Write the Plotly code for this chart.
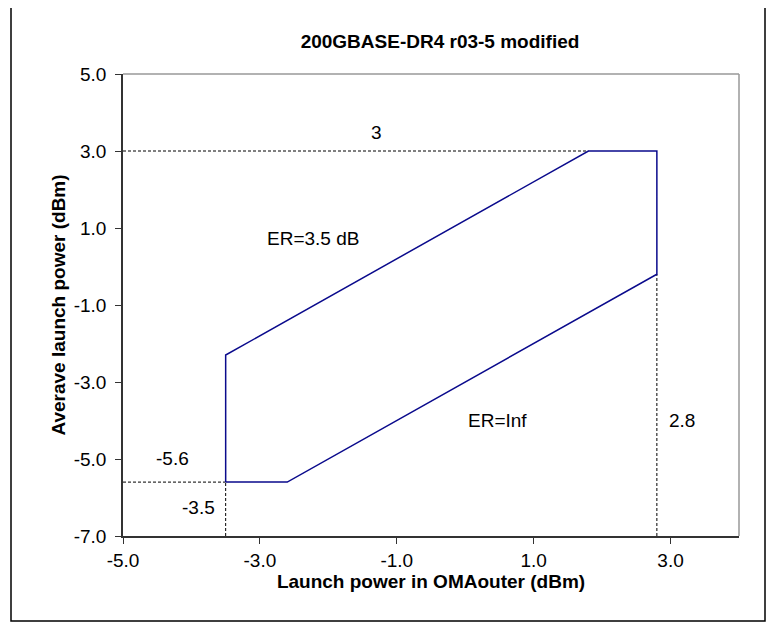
import plotly.graph_objects as go

# Data
poly_x = [-3.5, -2.6, 2.8, 2.8, 1.8, -3.5, -3.5]
poly_y = [-5.6, -5.6, -0.2, 3.0, 3.0, -2.3, -5.6]

# dashed guide lines (x pairs, y pairs)
guide_h_top_x = [-5.0, 1.8]
guide_h_top_y = [3.0, 3.0]
guide_h_bot_x = [-5.0, -3.5]
guide_h_bot_y = [-5.6, -5.6]
guide_v_left_x = [-3.5, -3.5]
guide_v_left_y = [-7.0, -5.6]
guide_v_right_x = [2.8, 2.8]
guide_v_right_y = [-7.0, -0.2]

labels_text = ["3", "ER=3.5 dB", "ER=Inf", "2.8", "-5.6", "-3.5"]
labels_x = [-1.3, -2.23, 0.47, 3.16, -4.28, -3.9]
labels_y = [3.47, 0.74, -4.0, -4.0, -4.98, -6.26]

x_ticks = [-5.0, -3.0, -1.0, 1.0, 3.0]
y_ticks = [-7.0, -5.0, -3.0, -1.0, 1.0, 3.0, 5.0]

FONT = "Liberation Sans, Arial, sans-serif"
FS = 19

fig = go.Figure()

dash_style = dict(color="black", width=1, dash="3px,2px")
for gx, gy in [(guide_h_top_x, guide_h_top_y), (guide_h_bot_x, guide_h_bot_y),
               (guide_v_left_x, guide_v_left_y), (guide_v_right_x, guide_v_right_y)]:
    fig.add_trace(go.Scatter(x=gx, y=gy, mode="lines", line=dash_style,
                             hoverinfo="skip", showlegend=False))

fig.add_trace(go.Scatter(x=poly_x, y=poly_y, mode="lines",
                         line=dict(color="#0a0a8c", width=1.5),
                         showlegend=False))

for t, lx, ly in zip(labels_text, labels_x, labels_y):
    fig.add_annotation(x=lx, y=ly, text=t, showarrow=False,
                       font=dict(family=FONT, size=FS, color="black"))

W, H = 768, 623
ML, MR, MT, MB = 115, 37, 66, 95

fig.update_layout(
    width=W, height=H,
    margin=dict(l=ML, r=MR, t=MT, b=MB),
    paper_bgcolor="white", plot_bgcolor="white",
    font=dict(family=FONT, size=FS, color="black"),
    title=dict(text="<b>200GBASE-DR4 r03-5 modified</b>", x=432 / W, xanchor="center",
               y=1 - 33 / H, yanchor="middle",
               font=dict(family=FONT, size=FS, color="black")),
    showlegend=False,
)

fig.update_xaxes(range=[-5, 4], tickvals=x_ticks,
                 ticktext=[f"{v:.1f}" for v in x_ticks],
                 showgrid=False, zeroline=False,
                 showline=True, linecolor="#333333", linewidth=1.5,
                 ticks="outside", ticklen=6, tickcolor="#333333",
                 title=dict(text="<b>Launch power in OMAouter (dBm)</b>", standoff=3,
                            font=dict(size=FS)),
                 tickfont=dict(size=FS))
fig.update_yaxes(range=[-7, 5], tickvals=y_ticks,
                 ticktext=[f"{v:.1f}" for v in y_ticks],
                 showgrid=False, zeroline=False,
                 showline=True, linecolor="#333333", linewidth=1.5,
                 ticks="outside", ticklen=6, tickcolor="#333333",
                 ticklabelstandoff=5,
                 title=dict(text="<b>Averave launch power (dBm)</b>", standoff=3,
                            font=dict(size=FS)),
                 tickfont=dict(size=FS))

# gray top/right plot-area border
fig.add_shape(type="line", xref="paper", yref="paper", x0=0, x1=1, y0=1, y1=1,
              line=dict(color="#999999", width=1.5))
fig.add_shape(type="line", xref="paper", yref="paper", x0=1, x1=1, y0=0, y1=1,
              line=dict(color="#999999", width=1.5))

# outer chart border (page px -> paper coords; page offset 8px)
pw, ph = W - ML - MR, H - MT - MB
left_px, top_px = ML + 8, MT + 8
fig.add_shape(type="rect", xref="paper", yref="paper",
              x0=(11 - left_px) / pw, x1=(765 - left_px) / pw,
              y0=(top_px + ph - 621) / ph, y1=(top_px + ph - 6) / ph,
              line=dict(color="black", width=1.5), fillcolor="rgba(0,0,0,0)", layer="below")

fig.write_html("out.html")
